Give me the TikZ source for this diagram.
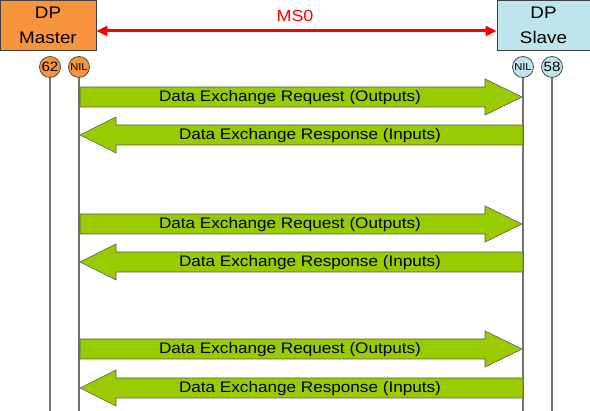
\documentclass[tikz,border=0pt]{standalone}
\usepackage{fontspec}
\setmainfont{Liberation Sans}[FakeStretch=1.12]
\usetikzlibrary{arrows.meta}

\definecolor{masterorange}{RGB}{247,148,60}
\definecolor{slaveblue}{RGB}{190,228,236}
\definecolor{flowgreen}{RGB}{153,204,0}

\tikzset{
  station/.style={draw=black!75, line width=0.8pt, minimum height=50pt, inner sep=0pt,
    align=center, font=\fontsize{16.8}{25}\selectfont},
  stat/.style={circle, draw=black!70, line width=0.8pt, minimum size=21pt, inner sep=0pt},
  lifeline/.style={draw=black!55, line width=1.3pt},
  flow/.style={fill=flowgreen, draw=black!65, line width=0.6pt},
  flowtext/.style={font=\fontsize{15.3}{17}\selectfont, inner sep=0pt},
}

\begin{document}
\begin{tikzpicture}[x=1pt, y=-1pt]

  \useasboundingbox (0,0) rectangle (590,411);
  \coordinate (bottom) at (0,411);

  % Master and slave boxes
  \node[station, fill=masterorange, minimum width=96pt] (master) at (48,25) {DP\\Master};
  \node[station, fill=slaveblue, minimum width=93pt] (slave) at (543.5,25) {DP\\Slave};

  % MS0 connection between the two
  \draw[red, line width=3pt, {Triangle[length=11pt,width=10pt]}-{Triangle[length=11pt,width=10pt]}]
    ([yshift=-6pt]master.east) -- ([yshift=-6pt]slave.west);
  \node[text=red, font=\fontsize{16}{18}\selectfont] (ms0) at (295,16) {MS0};

  % station numbers and lifelines
  \node[stat, fill=masterorange, font=\fontsize{13.5}{15}\selectfont] (m62) at (50,67) {62};
  \node[stat, fill=masterorange, font=\fontsize{10}{11}\selectfont] (mnil) at (79,67) {NIL};
  \node[stat, fill=slaveblue, font=\fontsize{10}{11}\selectfont] (snil) at (523,67) {NIL};
  \node[stat, fill=slaveblue, font=\fontsize{13.5}{15}\selectfont] (s58) at (552,67) {58};

  \draw[lifeline] (m62.south) -- (m62 |- bottom);
  \draw[lifeline] (mnil.south) -- (mnil |- bottom);
  \draw[lifeline] (snil.south) -- (snil |- bottom);
  \draw[lifeline] (s58.south) -- (s58 |- bottom);

  % first cycle
  \draw[flow] (80,87) -- (485,87) -- (485,79) -- (522,97) -- (485,115) -- (485,107) -- (80,107) -- cycle;
  \node[flowtext] (req1) at (290,98) {Data Exchange Request (Outputs)};
  \draw[flow] (523,125) -- (116,125) -- (116,117) -- (80,135) -- (116,153) -- (116,145) -- (523,145) -- cycle;
  \node[flowtext] (resp1) at (310,136) {Data Exchange Response (Inputs)};

  % second cycle
  \draw[flow] (80,214) -- (485,214) -- (485,206) -- (522,224) -- (485,242) -- (485,234) -- (80,234) -- cycle;
  \node[flowtext] (req2) at (290,225) {Data Exchange Request (Outputs)};
  \draw[flow] (523,252) -- (116,252) -- (116,244) -- (80,262) -- (116,280) -- (116,272) -- (523,272) -- cycle;
  \node[flowtext] (resp2) at (310,263) {Data Exchange Response (Inputs)};

  % third cycle
  \draw[flow] (80,339) -- (485,339) -- (485,331) -- (522,349) -- (485,367) -- (485,359) -- (80,359) -- cycle;
  \node[flowtext] (req3) at (290,350) {Data Exchange Request (Outputs)};
  \draw[flow] (523,378) -- (116,378) -- (116,370) -- (80,388) -- (116,406) -- (116,398) -- (523,398) -- cycle;
  \node[flowtext] (resp3) at (310,389) {Data Exchange Response (Inputs)};

\end{tikzpicture}
\end{document}
